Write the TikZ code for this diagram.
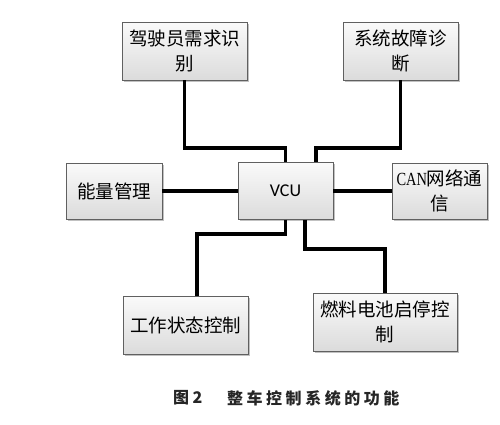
\documentclass[tikz,border=0pt]{standalone}
\usepackage{fontspec}
\setmainfont{Noto Sans CJK SC}
\newfontfamily\vcufont{Carlito}
\newfontfamily\canfont{Liberation Serif}[FakeStretch=0.78]
\newfontfamily\capfont{Noto Sans CJK SC}[LetterSpace=22]
\usetikzlibrary{shadows}
\tikzset{
  box/.style={draw=gray!75!black, line width=0.6pt, top color=gray!4, bottom color=gray!28,
    drop shadow={shadow xshift=1.6pt, shadow yshift=-1.6pt, fill=gray!80, opacity=0.6},
    align=center, inner sep=2pt, font=\fontsize{18.5}{25}\selectfont},
  link/.style={line width=3.6pt, line join=miter, black},
  captext/.style={anchor=west, inner sep=0pt, text=black!85, font=\capfont\bfseries\fontsize{16}{16}\selectfont}
}
\begin{document}
\begin{tikzpicture}[x=1pt,y=-1pt]
\useasboundingbox (0,0) rectangle (500,424);
\fill[white] (0,0) rectangle (500,424);
% boxes
\node[box, minimum width=125pt, minimum height=58pt] (drv) at (184.5,51) {驾驶员需求识\\别};
\node[box, minimum width=115pt, minimum height=58pt] (diag) at (400.5,51) {系统故障诊\\断};
\node[box, minimum width=96pt, minimum height=56pt] (energy) at (114,191) {能量管理};
\node[box, minimum width=95pt, minimum height=57pt, font=\vcufont\fontsize{18}{20}\selectfont] (vcu) at (285.5,191) {VCU};
\node[box, minimum width=95pt, minimum height=56pt] (can) at (439.5,191) {{\canfont CAN}网络通\\信};
\node[box, minimum width=125pt, minimum height=58pt] (work) at (185.5,325) {工作状态控制};
\node[box, minimum width=144pt, minimum height=58pt] (fuel) at (385,322) {燃料电池启停控\\制};
% helper coordinates
\coordinate (h1) at (0,148);
\coordinate (h2) at (0,234);
\coordinate (h3) at (0,249);
\coordinate (vt2) at ([xshift=30.5pt]vcu.north);
\coordinate (vb2) at ([xshift=19.5pt]vcu.south);
\coordinate (wt) at ([xshift=11.5pt]work.north);
% connectors
\draw[link] (drv.south) -- (drv.south |- h1) -- (vcu.north |- h1) -- (vcu.north);
\draw[link] (diag.south) -- (diag.south |- h1) -- (vt2 |- h1) -- (vt2);
\draw[link] (vcu.south) -- (vcu.south |- h2) -- (wt |- h2) -- (wt);
\draw[link] (vb2) -- (vb2 |- h3) -- (fuel.north |- h3) -- (fuel.north);
\draw[link] (energy.east) -- (vcu.west);
\draw[link] (vcu.east) -- (can.west);
% caption
\node[captext] (cap1) at (173,398) {图2};
\node[captext] (cap2) at (227,398) {整车控制系统的功能};
\end{tikzpicture}
\end{document}
